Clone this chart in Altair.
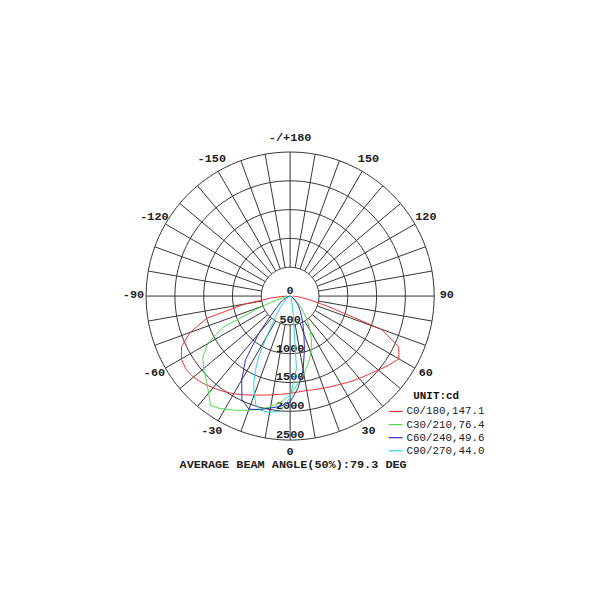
import altair as alt
import numpy as np
import pandas as pd

# ---------------- data ----------------
SERIES_NAMES = ["C0/180,147.1", "C30/210,76.4", "C60/240,49.6", "C90/270,44.0"]
SERIES_COLORS = ["#e83434", "#4ddc4d", "#2a2ab8", "#2fcfe0"]

# gamma angle (deg, 0 = straight down, negative = left half-plane) and intensity (cd)
C0_180_ANG = [-90, -85, -80, -75, -70, -65, -60, -55, -50, -45, -40, -35, -30, -25, -20, -15, -10, -5,
              0, 5, 10, 15, 20, 25, 30, 35, 40, 45, 50, 55, 60, 65, 70, 75, 80, 85, 90]
C0_180_CD = [60, 300, 800, 1500, 1850, 2080, 2180, 2210, 2190, 2140, 2080, 2020, 1960, 1890, 1830, 1780, 1740, 1710,
             1690, 1670, 1665, 1680, 1700, 1730, 1765, 1815, 1865, 1925, 2000, 2090, 2180, 2080, 1690, 650, 300, 150, 50]

C30_210_ANG = [-90, -85, -80, -75, -70, -65, -60, -55, -50, -45, -40, -36, -32, -25, -20, -15, -10, -5,
               0, 5, 10, 15, 20, 25, 30, 35, 40, 45, 50, 60, 70, 80, 90]
C30_210_CD = [10, 30, 80, 200, 500, 1300, 1650, 1850, 1960, 2060, 2200, 2350, 2300, 2190, 2110, 2030, 1955, 1850,
              1720, 1530, 1370, 1210, 1060, 880, 700, 520, 360, 230, 140, 70, 40, 20, 10]

C60_240_ANG = [-90, -80, -70, -60, -55, -50, -45, -40, -35, -30, -25, -20, -15, -10, -5,
               0, 5, 10, 15, 20, 25, 30, 35, 40, 45, 50, 60, 70, 90]
C60_240_CD = [5, 20, 60, 150, 210, 290, 470, 850, 1350, 1680, 1980, 2090, 2040, 1975, 1920,
              1840, 1600, 1300, 960, 700, 520, 390, 300, 230, 160, 100, 50, 25, 5]

C90_270_ANG = [-90, -70, -60, -50, -45, -40, -35, -32, -30, -27.5, -25, -22.5, -20, -17.5, -15, -10, -5,
               0, 5, 10, 15, 20, 30, 45, 90]
C90_270_CD = [5, 15, 30, 80, 150, 270, 450, 620, 800, 1180, 1430, 1650, 1820, 1980, 2050, 2050, 2010,
              1760, 1260, 300, 120, 60, 30, 15, 5]

RADIUS_VALUES = [0, 500, 1000, 1500, 2000, 2500]
GRID_CIRCLES = [500, 1000, 1500, 2000, 2500]
ANGLE_LABEL_POS = [180, -150, -120, -90, -60, -30, 0, 30, 60, 90, 120, 150]
ANGLE_LABEL_TEXT = ["-/+180", "-150", "-120", "-90", "-60", "-30", "0", "30", "60", "90", "120", "150"]
TITLE_TEXT = "AVERAGE BEAM ANGLE(50%):79.3 DEG"
LEGEND_TITLE = "UNIT:cd"

RMAX = 2500
LABEL_R = 2720

# ---------------- tables ----------------
rows = []
for name, angs, cds in zip(SERIES_NAMES,
                           [C0_180_ANG, C30_210_ANG, C60_240_ANG, C90_270_ANG],
                           [C0_180_CD, C30_210_CD, C60_240_CD, C90_270_CD]):
    for i, (a, c) in enumerate(zip(angs, cds)):
        rows.append({"series": name, "ang": a, "cd": c, "idx": i})
curves_df = pd.DataFrame(rows)

circ_rows = []
for r in GRID_CIRCLES:
    for i, t in enumerate(range(0, 361, 2)):
        circ_rows.append({"r": r, "ang": t, "idx": i})
circ_df = pd.DataFrame(circ_rows)

spokes_df = pd.DataFrame({"ang": list(range(0, 360, 10)), "r0": 500, "r1": RMAX})
rlab_df = pd.DataFrame({"r": RADIUS_VALUES, "label": [str(v) for v in RADIUS_VALUES]})
alab_df = pd.DataFrame({"ang": ANGLE_LABEL_POS, "label": ANGLE_LABEL_TEXT, "r": LABEL_R})
title_df = pd.DataFrame({"t": [TITLE_TEXT]})

# ---------------- encodings ----------------
sc = alt.Scale(domain=[-RMAX, RMAX], nice=False, zero=False)
X = alt.X("x:Q", scale=sc, axis=None)
Y = alt.Y("y:Q", scale=sc, axis=None)
GRID_COLOR = "#333333"
FONT = "Liberation Mono"

circles = alt.Chart(circ_df).transform_calculate(
    x="datum.r*sin(datum.ang*PI/180)", y="datum.r*cos(datum.ang*PI/180)"
).mark_line(color=GRID_COLOR, strokeWidth=1).encode(
    x=X, y=Y, detail="r:N", order="idx:Q"
)

spokes = alt.Chart(spokes_df).transform_calculate(
    x="datum.r0*sin(datum.ang*PI/180)", y="datum.r0*cos(datum.ang*PI/180)",
    x2="datum.r1*sin(datum.ang*PI/180)", y2="datum.r1*cos(datum.ang*PI/180)"
).mark_rule(color=GRID_COLOR, strokeWidth=1).encode(
    x=X, y=Y, x2="x2:Q", y2="y2:Q"
)

rlabels = alt.Chart(rlab_df).transform_calculate(
    x="0", y="-datum.r"
).mark_text(font=FONT, fontSize=12, fontWeight="bold", color="#222222",
            baseline="alphabetic", align="center", dy=-2).encode(
    x=X, y=Y, text="label:N"
)

alabels = alt.Chart(alab_df).transform_calculate(
    x="datum.r*sin(datum.ang*PI/180)", y="-datum.r*cos(datum.ang*PI/180)"
).mark_text(font=FONT, fontSize=12, fontWeight="bold", color="#222222",
            baseline="middle", align="center", dy=-2).encode(
    x=X, y=Y, text="label:N"
)

curves = alt.Chart(curves_df).transform_calculate(
    x="datum.cd*sin(datum.ang*PI/180)", y="-datum.cd*cos(datum.ang*PI/180)"
).mark_line(strokeWidth=1, clip=False).encode(
    x=X, y=Y, order="idx:Q",
    color=alt.Color("series:N",
                    scale=alt.Scale(domain=SERIES_NAMES, range=SERIES_COLORS),
                    sort=SERIES_NAMES,
                    legend=alt.Legend(title=LEGEND_TITLE, orient="none", legendX=245, legendY=241,
                                      titleFont=FONT, titleFontSize=11, titleFontWeight="bold",
                                      titleColor="#111111", titleAnchor="middle",
                                      labelFont=FONT, labelFontSize=11, labelColor="#222222",
                                      symbolType="stroke", symbolSize=196, symbolStrokeWidth=1.2,
                                      rowPadding=0.3, labelOffset=3, titlePadding=3))
)

title = alt.Chart(title_df).mark_text(font=FONT, fontSize=12, fontWeight="bold", color="#222222",
                                      align="center", baseline="middle").encode(
    x=alt.value(149), y=alt.value(316), text="t:N"
)

chart = alt.layer(circles, spokes, rlabels, alabels, curves, title).properties(
    width=292, height=292,
    padding={"left": 140, "top": 142, "right": 160, "bottom": 150},
    autosize="none",
).configure_view(stroke=None)

chart.save("out.html", embed_options={"renderer": "svg", "actions": False})
